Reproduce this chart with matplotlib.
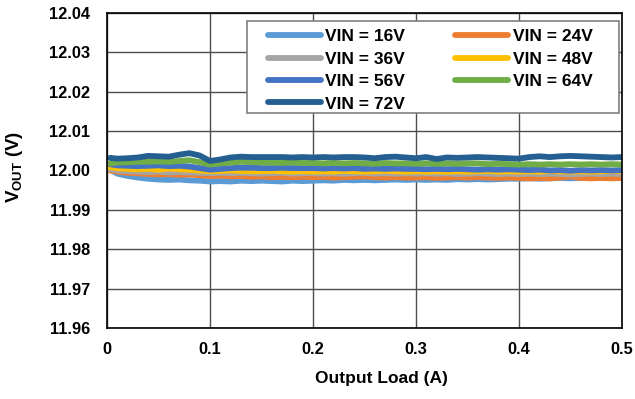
import numpy as np
import matplotlib.pyplot as plt
from matplotlib.patches import Rectangle

plt.rcParams['font.family'] = ['Liberation Sans', 'DejaVu Sans']
plt.rcParams['font.weight'] = 'bold'
plt.rcParams['mathtext.fontset'] = 'custom'
plt.rcParams['mathtext.rm'] = 'Liberation Sans:bold'
plt.rcParams['mathtext.bf'] = 'Liberation Sans:bold'
plt.rcParams['mathtext.it'] = 'Liberation Sans:bold'

# output load (A)
load = [0.003, 0.01, 0.02, 0.03, 0.04, 0.05, 0.06, 0.07, 0.08, 0.09,
        0.10, 0.11, 0.12, 0.13, 0.14, 0.15, 0.16, 0.17, 0.18, 0.19,
        0.20, 0.21, 0.22, 0.23, 0.24, 0.25, 0.26, 0.27, 0.28, 0.29,
        0.30, 0.31, 0.32, 0.33, 0.34, 0.35, 0.36, 0.37, 0.38, 0.39,
        0.40, 0.41, 0.42, 0.43, 0.44, 0.45, 0.46, 0.47, 0.48, 0.49, 0.50]

vin16 = [12.0002, 11.9992, 11.9986, 11.9982, 11.9979, 11.9977, 11.9976, 11.9977, 11.9975, 11.9974,
         11.9972, 11.9973, 11.9972, 11.9974, 11.9973, 11.9974, 11.9973, 11.9972, 11.9974, 11.9973,
         11.9974, 11.9975, 11.9974, 11.9976, 11.9975, 11.9976, 11.9975, 11.9976, 11.9977, 11.9976,
         11.9977, 11.9976, 11.9977, 11.9976, 11.9978, 11.9977, 11.9978, 11.9977, 11.9978, 11.9979,
         11.9979, 11.9980, 11.9979, 11.9980, 11.9981, 11.9980, 11.9981, 11.9982, 11.9981, 11.9982, 11.9983]
vin24 = [12.0000, 11.9997, 11.9994, 11.9993, 11.9991, 11.9990, 11.9991, 11.9989, 11.9990, 11.9988,
         11.9986, 11.9987, 11.9985, 11.9986, 11.9984, 11.9985, 11.9983, 11.9984, 11.9983, 11.9984,
         11.9983, 11.9984, 11.9982, 11.9983, 11.9984, 11.9985, 11.9983, 11.9982, 11.9983, 11.9982,
         11.9982, 11.9983, 11.9981, 11.9982, 11.9983, 11.9982, 11.9983, 11.9982, 11.9981, 11.9982,
         11.9981, 11.9980, 11.9981, 11.9980, 11.9982, 11.9985, 11.9981, 11.9980, 11.9981, 11.9980, 11.9981]
vin36 = [12.0003, 12.0000, 11.9998, 11.9997, 11.9996, 11.9997, 11.9995, 11.9996, 11.9995, 11.9994,
         11.9993, 11.9994, 11.9993, 11.9994, 11.9993, 11.9992, 11.9993, 11.9994, 11.9992, 11.9993,
         11.9993, 11.9992, 11.9993, 11.9992, 11.9993, 11.9994, 11.9992, 11.9993, 11.9992, 11.9993,
         11.9992, 11.9993, 11.9992, 11.9993, 11.9991, 11.9992, 11.9993, 11.9992, 11.9991, 11.9992,
         11.9991, 11.9992, 11.9991, 11.9992, 11.9991, 11.9990, 11.9991, 11.9992, 11.9991, 11.9992, 11.9991]
vin48 = [12.0008, 12.0006, 12.0004, 12.0003, 12.0004, 12.0002, 12.0005, 12.0003, 12.0002, 12.0000,
         11.9998, 11.9999, 12.0000, 11.9999, 11.9998, 11.9998, 11.9999, 11.9998, 11.9997, 11.9998,
         11.9997, 11.9998, 11.9997, 11.9999, 11.9998, 11.9997, 11.9998, 11.9999, 11.9998, 11.9997,
         11.9998, 11.9997, 11.9998, 11.9997, 11.9998, 11.9997, 11.9998, 11.9999, 11.9997, 11.9998,
         11.9997, 11.9998, 11.9997, 11.9999, 11.9998, 11.9997, 11.9998, 11.9997, 11.9998, 11.9999, 11.9998]
vin56 = [12.0016, 12.0013, 12.0012, 12.0011, 12.0012, 12.0013, 12.0011, 12.0012, 12.0010, 12.0006,
         12.0002, 12.0004, 12.0006, 12.0007, 12.0007, 12.0006, 12.0006, 12.0007, 12.0006, 12.0006,
         12.0006, 12.0005, 12.0006, 12.0005, 12.0006, 12.0004, 12.0005, 12.0004, 12.0005, 12.0004,
         12.0004, 12.0003, 12.0004, 12.0003, 12.0004, 12.0003, 12.0002, 12.0003, 12.0002, 12.0003,
         12.0002, 12.0001, 12.0002, 12.0000, 12.0001, 11.9999, 12.0001, 12.0000, 12.0001, 12.0000, 12.0001]
vin64 = [12.0018, 12.0020, 12.0021, 12.0022, 12.0022, 12.0023, 12.0022, 12.0024, 12.0026, 12.0021,
         12.0015, 12.0018, 12.0020, 12.0022, 12.0021, 12.0020, 12.0020, 12.0019, 12.0020, 12.0019,
         12.0019, 12.0018, 12.0019, 12.0018, 12.0019, 12.0018, 12.0017, 12.0019, 12.0018, 12.0018,
         12.0017, 12.0018, 12.0017, 12.0018, 12.0017, 12.0018, 12.0018, 12.0016, 12.0017, 12.0016,
         12.0015, 12.0016, 12.0015, 12.0016, 12.0015, 12.0016, 12.0015, 12.0016, 12.0015, 12.0016, 12.0015]
vin72 = [12.0032, 12.0030, 12.0031, 12.0033, 12.0037, 12.0036, 12.0035, 12.0040, 12.0044, 12.0038,
         12.0024, 12.0028, 12.0033, 12.0035, 12.0034, 12.0034, 12.0034, 12.0034, 12.0033, 12.0034,
         12.0033, 12.0034, 12.0033, 12.0034, 12.0034, 12.0033, 12.0031, 12.0034, 12.0035, 12.0033,
         12.0031, 12.0034, 12.0029, 12.0033, 12.0032, 12.0033, 12.0034, 12.0033, 12.0032, 12.0031,
         12.0030, 12.0034, 12.0036, 12.0034, 12.0036, 12.0037, 12.0036, 12.0035, 12.0034, 12.0033, 12.0034]

labels = ['VIN = 16V', 'VIN = 24V', 'VIN = 36V', 'VIN = 48V',
          'VIN = 56V', 'VIN = 64V', 'VIN = 72V']
series = [vin16, vin24, vin36, vin48, vin56, vin64, vin72]
colors = ['#5B9BD5', '#ED7D31', '#A5A5A5', '#FFC000', '#4472C4', '#70AD47', '#255E91']
yticks = [11.96, 11.97, 11.98, 11.99, 12.00, 12.01, 12.02, 12.03, 12.04]
xticks = [0, 0.1, 0.2, 0.3, 0.4, 0.5]

fig = plt.figure(figsize=(6.35, 3.99), dpi=100)
ax = fig.add_axes([0.1685, 0.178, 0.811, 0.7895])

handles = []
for ys, c, lab in zip(series, colors, labels):
    h, = ax.plot(load, ys, color=c, lw=4.2, solid_capstyle='round', label=lab)
    handles.append(h)

ax.set_xlim(0, 0.5)
ax.set_ylim(11.96, 12.04)
ax.set_xticks(xticks)
ax.set_xticklabels(['0', '0.1', '0.2', '0.3', '0.4', '0.5'])
ax.set_yticks(yticks)
ax.set_yticklabels(['%.2f' % v for v in yticks])
ax.tick_params(axis='x', length=0, labelsize=11.8, pad=10)
ax.tick_params(axis='y', length=0, labelsize=11.8, pad=12)
for lab in ax.get_xticklabels() + ax.get_yticklabels():
    lab.set_fontweight('bold')
ax.grid(True, color='#4d4d4d', lw=1)
ax.set_axisbelow(True)
for s in ax.spines.values():
    s.set_color('black')
    s.set_linewidth(1.2)

ax.set_xlabel('Output Load (A)', fontsize=12.5, fontweight='bold')
ax.xaxis.set_label_coords(0.532, -0.138)
ax.set_ylabel(r'V$_{\mathregular{OUT}}$ (V)', fontsize=13.5, fontweight='bold')
ax.yaxis.set_label_coords(-0.159, 0.51)

# legend box drawn separately so the padding matches
box = Rectangle((0.2718, 0.6825), 0.7224, 0.2921, transform=ax.transAxes,
                facecolor='white', edgecolor='#7f7f7f', lw=1.2, zorder=4, clip_on=False)
ax.add_patch(box)

order = [0, 2, 4, 6, 1, 3, 5]
leg = ax.legend([handles[i] for i in order], [labels[i] for i in order],
                ncol=2, loc='upper left', bbox_to_anchor=(0.3126, 0.949),
                fontsize=12.5, handlelength=3.05, handletextpad=0.25,
                columnspacing=2.9, labelspacing=0.42, frameon=False, borderpad=0,
                borderaxespad=0)
leg.set_zorder(6)
for t in leg.get_texts():
    t.set_fontweight('bold')

fig.savefig('out.png', dpi=100)
